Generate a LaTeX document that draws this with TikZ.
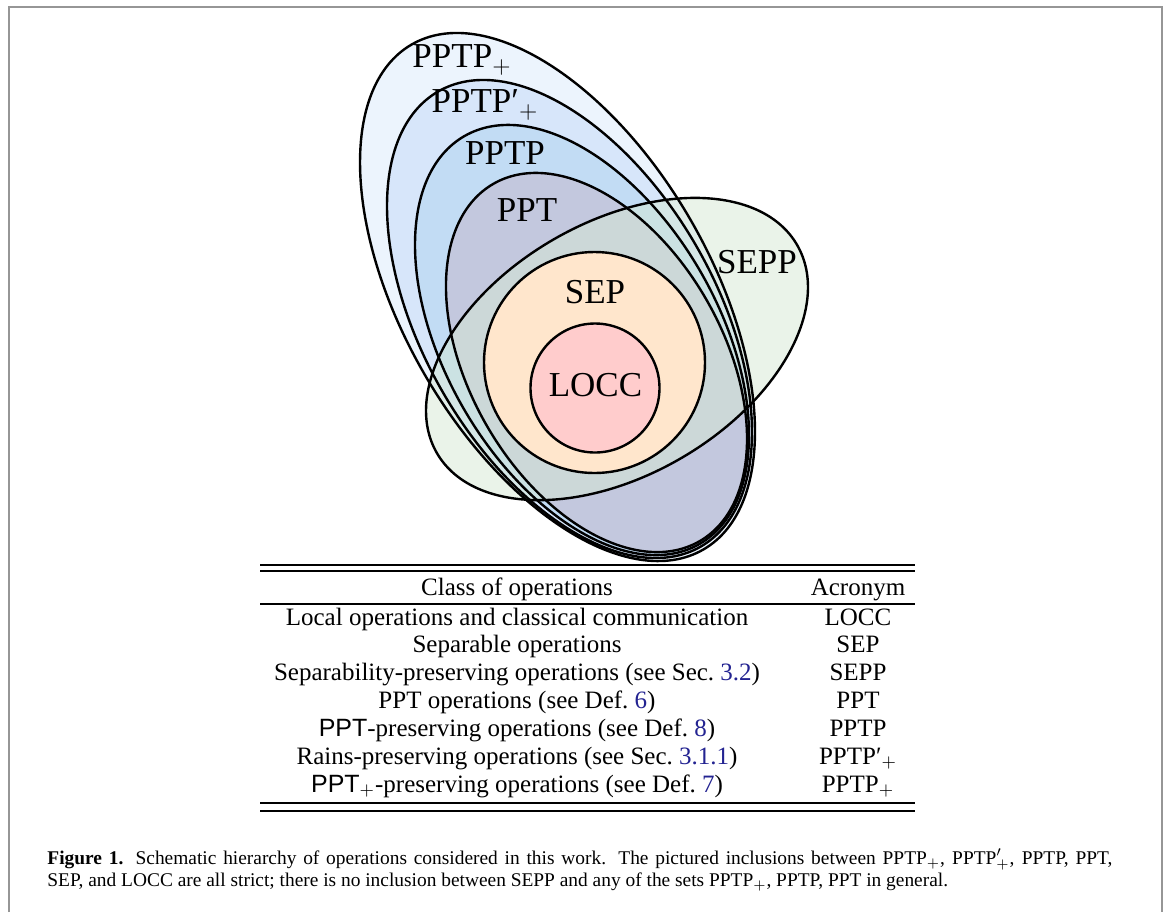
\documentclass[tikz,border=0pt]{standalone}
\usepackage{fontspec}
\setmainfont{Liberation Serif}
\newfontfamily\sansfont{Liberation Sans}
\usepackage{xcolor}
\usetikzlibrary{positioning}

\definecolor{pptpplusfill}{RGB}{236,244,253}
\definecolor{pptpprimefill}{RGB}{215,230,250}
\definecolor{pptpfill}{RGB}{194,220,244}
\definecolor{pptfill}{RGB}{195,200,222}
\definecolor{seppfill}{RGB}{213,232,212}
\definecolor{sepfill}{RGB}{255,230,204}
\definecolor{loccfill}{RGB}{255,204,204}
\definecolor{linkblue}{RGB}{35,35,145}
\definecolor{framegray}{RGB}{150,150,150}

\newcommand{\sansppt}[1]{{\sansfont #1}}
\newcommand{\reflink}[1]{\textcolor{linkblue}{#1}}
\newcommand{\primeplus}{′$_{+}$}

\begin{document}
\begin{tikzpicture}[
    x=0.5pt, y=-0.5pt,
    setline/.style={draw=black, line width=1.2pt},
    setlabel/.style={font=\fontsize{17.5}{20}\selectfont, inner sep=0pt},
    row/.style={anchor=base, inner sep=0pt, font=\fontsize{12.5}{14}\selectfont},
    rule/.style={line width=1pt},
    caption/.style={anchor=base west, inner sep=0pt, font=\fontsize{9.7}{12}\selectfont}
]
    \useasboundingbox (0,0) rectangle (1168,912);

    % --- 1. Frame ---
    \draw[framegray, line width=0.75pt] (9,912) -- (9,7) -- (1162,7) -- (1162,912);

    % --- 2. Nested PPTP sets (fills first) ---
    \foreach \cx/\cy/\ra/\rb/\col in {557.5/297/291.6/153.8/pptpplusfill,
                                      569.5/319/262.7/146.3/pptpprimefill,
                                      582/340/235.4/136.8/pptpfill,
                                      596.5/362.5/206.3/126.6/pptfill}
        \fill[\col, rotate around={-60:(\cx,\cy)}] (\cx,\cy) ellipse [x radius=\ra, y radius=\rb];

    % SEPP, half transparent
    \fill[seppfill, fill opacity=0.5, rotate around={30:(617,349)}] (617,349) ellipse [x radius=208, y radius=126.6];

    % --- 3. Outlines on top ---
    \foreach \cx/\cy/\ra/\rb in {557.5/297/291.6/153.8, 569.5/319/262.7/146.3,
                                 582/340/235.4/136.8, 596.5/362.5/206.3/126.6}
        \draw[setline, rotate around={-60:(\cx,\cy)}] (\cx,\cy) ellipse [x radius=\ra, y radius=\rb];
    \draw[setline, rotate around={30:(617,349)}] (617,349) ellipse [x radius=208, y radius=126.6];

    % SEP and LOCC
    \draw[setline, fill=sepfill] (594.5,362.5) circle [radius=110.5];
    \draw[setline, fill=loccfill] (595,388) circle [radius=64.5];

    % --- 4. Set labels ---
    \node[setlabel] (pptpplus) at (462,60) {PPTP$_{+}$};
    \node[setlabel] (pptpprime) at (485,105) {PPTP\primeplus};
    \node[setlabel] (pptp) at (505,153) {PPTP};
    \node[setlabel] (ppt) at (527,210) {PPT};
    \node[setlabel] (sepp) at (757,262) {SEPP};
    \node[setlabel] (sep) at (595,292) {SEP};
    \node[setlabel] (locc) at (595.5,385) {LOCC};

    % --- 5. Table ---
    \draw[rule] (260,565) -- (915,565);
    \draw[rule] (260,571) -- (915,571);
    \draw[rule] (260,604) -- (915,604);
    \draw[rule] (260,803) -- (915,803);
    \draw[rule] (260,811) -- (915,811);

    \node[row] (head-class) at (517,595) {Class of operations};
    \node[row] (head-acr) at (858,595) {Acronym};

    \node[row] (class-locc) at (517,625) {Local operations and classical communication};
    \node[row] (acr-locc) at (858,625) {LOCC};
    \node[row] (class-sep) at (517,652) {Separable operations};
    \node[row] (acr-sep) at (858,652) {SEP};
    \node[row] (class-sepp) at (517,680) {Separability-preserving operations (see Sec.~\reflink{3.2})};
    \node[row] (acr-sepp) at (858,680) {SEPP};
    \node[row] (class-ppt) at (517,708) {PPT operations (see Def.~\reflink{6})};
    \node[row] (acr-ppt) at (858,708) {PPT};
    \node[row] (class-pptp) at (517,736) {\sansppt{PPT}-preserving operations (see Def.~\reflink{8})};
    \node[row] (acr-pptp) at (858,736) {PPTP};
    \node[row] (class-rains) at (517,764) {Rains-preserving operations (see Sec.~\reflink{3.1.1})};
    \node[row] (acr-rains) at (858,764) {PPTP\primeplus};
    \node[row] (class-pptplus) at (517,792) {\sansppt{PPT$_{+}$}-preserving operations (see Def.~\reflink{7})};
    \node[row] (acr-pptplus) at (858,792) {PPTP$_{+}$};

    % --- 6. Caption ---
    \node[caption] (cap1) at (47,864) {\makebox[532.5pt][s]{\textbf{Figure 1.} Schematic hierarchy of operations considered in this work. The pictured inclusions between PPTP$_{+}$, PPTP$'_{+}$, PPTP, PPT,}};
    \node[caption] (cap2) at (47,886) {SEP, and LOCC are all strict; there is no inclusion between SEPP and any of the sets PPTP$_{+}$, PPTP, PPT in general.};

\end{tikzpicture}
\end{document}
